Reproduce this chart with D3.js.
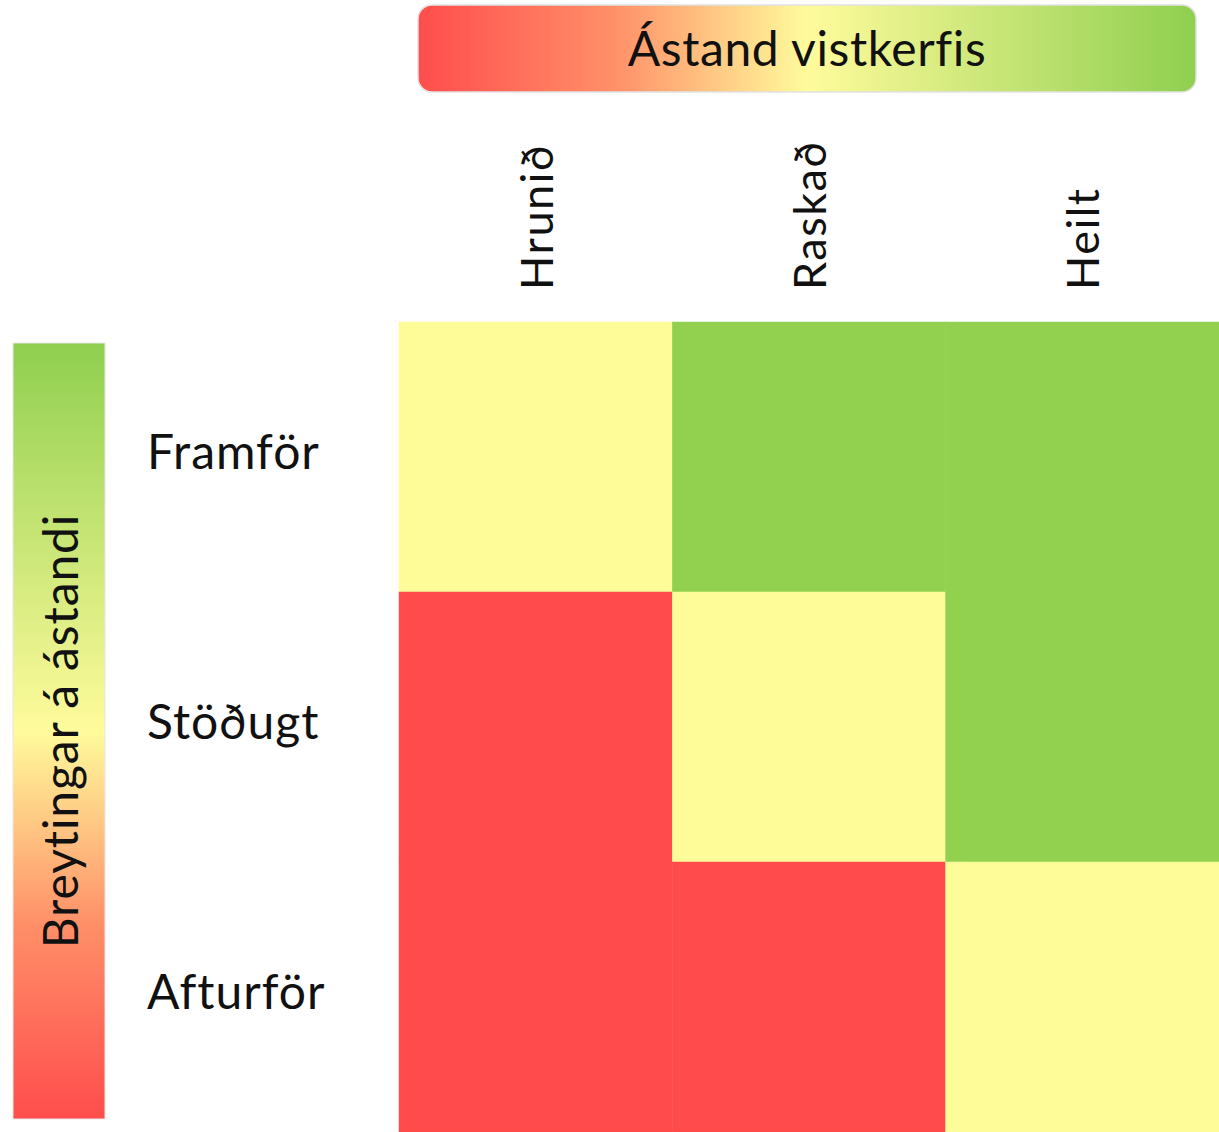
<!DOCTYPE html>
<html>
<head>
<meta charset="utf-8">
<script src="https://cdn.jsdelivr.net/npm/d3@7"></script>
<style>
  html, body { margin: 0; padding: 0; background: #fff; }
  svg { display: block; font-family: Lato, "Open Sans", sans-serif; font-variant-ligatures: none; }
</style>
</head>
<body>
<script>
// ecosystem condition (columns) x change in condition (rows)
const columns = ['Hrunið', 'Raskað', 'Heilt'];
const rows = ['Framför', 'Stöðugt', 'Afturför'];
// -1 = bad, 0 = middle, 1 = good
const cellValues = [
  [0, 1, 1],
  [-1, 0, 1],
  [-1, -1, 0]
];
const levels = [-1, 0, 1];
const levelColors = ['#ff4b4b', '#fefc98', '#92d050'];
const topTitle = 'Ástand vistkerfis';
const sideTitle = 'Breytingar á ástandi';

const width = 1219, height = 1132;

const svg = d3.select('body').append('svg')
  .attr('width', width)
  .attr('height', height);

const color = d3.scaleOrdinal().domain(levels).range(levelColors);
const x = d3.scaleBand().domain(columns).range([399, 1219]);
const y = d3.scaleBand().domain(rows).range([322, 1132]);

const defs = svg.append('defs');
const hGrad = defs.append('linearGradient').attr('id', 'hGrad')
  .attr('x1', '0%').attr('x2', '100%').attr('y1', '0%').attr('y2', '0%');
const vGrad = defs.append('linearGradient').attr('id', 'vGrad')
  .attr('x1', '0%').attr('x2', '0%').attr('y1', '100%').attr('y2', '0%');
const stops = [
  {offset: '0%', color: '#ff4d4d'},
  {offset: '25%', color: '#ff8f68'},
  {offset: '50%', color: '#fffb9c'},
  {offset: '100%', color: '#8fcf4f'}
];
[hGrad, vGrad].forEach(g => {
  g.selectAll('stop').data(stops).enter().append('stop')
    .attr('offset', d => d.offset)
    .attr('stop-color', d => d.color);
});

// top bar
svg.append('rect')
  .attr('x', 418).attr('y', 5)
  .attr('width', 778).attr('height', 87)
  .attr('rx', 14)
  .attr('fill', 'url(#hGrad)')
  .attr('stroke', '#e2e2e2').attr('stroke-width', 1.5);
svg.append('text')
  .attr('x', 807).attr('y', 66)
  .attr('text-anchor', 'middle')
  .attr('font-size', 48)
  .attr('letter-spacing', 0.6)
  .attr('fill', '#111')
  .text(topTitle);

// side bar
svg.append('rect')
  .attr('x', 13).attr('y', 343)
  .attr('width', 92).attr('height', 776)
  .attr('fill', 'url(#vGrad)')
  .attr('stroke', '#e6e6e6').attr('stroke-width', 1);
svg.append('text')
  .attr('transform', 'translate(78,731) rotate(-90)')
  .attr('text-anchor', 'middle')
  .attr('font-size', 48)
  .attr('letter-spacing', 0.9)
  .attr('fill', '#111')
  .text(sideTitle);

// cells
const cells = [];
rows.forEach((r, i) => columns.forEach((c, j) => cells.push({row: r, col: c, v: cellValues[i][j]})));

svg.append('g').selectAll('rect.cell')
  .data(cells)
  .enter().append('rect')
    .attr('class', 'cell')
    .attr('x', d => x(d.col))
    .attr('y', d => y(d.row))
    .attr('width', x.bandwidth())
    .attr('height', y.bandwidth())
    .attr('fill', d => color(d.v))
    .attr('stroke', d => color(d.v))
    .attr('stroke-width', 0.5);

// column labels
svg.append('g').selectAll('text.col')
  .data(columns)
  .enter().append('text')
    .attr('class', 'col')
    .attr('transform', d => `translate(${x(d) + x.bandwidth() / 2 + 17},290) rotate(-90)`)
    .attr('font-size', 45)
    .attr('letter-spacing', 1.5)
    .attr('fill', '#111')
    .text(d => d);

// row labels
svg.append('g').selectAll('text.row')
  .data(rows)
  .enter().append('text')
    .attr('class', 'row')
    .attr('x', 147)
    .attr('y', d => y(d) + y.bandwidth() / 2 + 12)
    .attr('font-size', 48)
    .attr('letter-spacing', 1)
    .attr('fill', '#111')
    .text(d => d);
</script>
</body>
</html>
